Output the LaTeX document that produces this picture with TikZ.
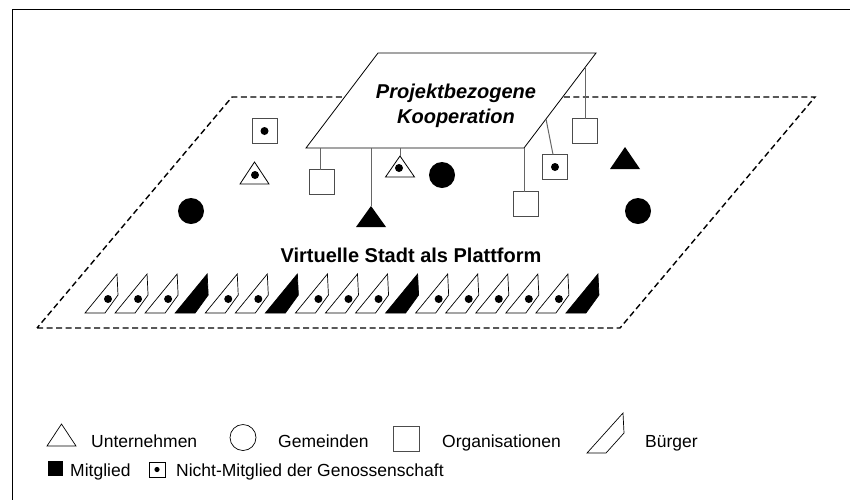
\documentclass[tikz,border=0pt]{standalone}
\usepackage{fontspec}
\setmainfont{Liberation Sans}
\usetikzlibrary{calc}
\tikzset{
  frameline/.style={line width=1pt, line cap=rect},
  platform/.style={dash pattern=on 6pt off 3.5pt, line width=1.4pt, line join=miter},
  coop/.style={draw, fill=white, line width=0.8pt},
  link/.style={draw=black!60, line width=1pt},
  orgbox/.style={draw=black!70, fill=white, line width=0.9pt, minimum width=25pt, minimum height=25pt, inner sep=0pt, outer sep=0pt},
  bigdot/.style={circle, fill=black, minimum size=26pt, inner sep=0pt},
  tri/.style={draw, line width=0.8pt, fill=white, line join=miter},
  tribk/.style={fill=black},
  legtext/.style={font=\fontsize{17.5}{20}\selectfont, anchor=base west, inner sep=0pt},
  bwhite/.pic={\draw[line width=0.7pt, fill=white] (0,0) -- (20,0) -- (33,-18) -- (32,-39) -- cycle; \fill (23,-14) circle (4);},
  bblack/.pic={\draw[line width=0.7pt, fill=black] (0,0) -- (20,0) -- (33,-18) -- (32,-39) -- cycle;}
}
\begin{document}
\begin{tikzpicture}[x=1pt,y=-1pt]
\useasboundingbox (0,0) rectangle (850,499);
% frame
\draw[frameline] (12,499) -- (12,9) -- (850,9);
% platform
\draw[platform] (37,328) -- (620,328) -- (815,97) -- (232,97) -- cycle;
% cooperation plane
\coordinate (cBL) at (306,148);
\coordinate (cBR) at (524,148);
\coordinate (cTR) at (596,53);
\coordinate (cTL) at (378,53);
\draw[coop] (cBL) -- (cBR) -- (cTR) -- (cTL) -- cycle;
\node[font=\bfseries\itshape\fontsize{20}{25}\selectfont, anchor=base, inner sep=0pt] (k1) at (456,98) {Projektbezogene};
\node[font=\bfseries\itshape\fontsize{20}{25}\selectfont, anchor=base, inner sep=0pt] (k2) at (456,123) {Kooperation};
% connector anchors on the plane
\coordinate (a1) at (320,148);
\coordinate (a2) at (371,148);
\coordinate (a3) at (400,148);
\coordinate (a4) at (524,148);
\coordinate (a5) at (546,119);
\coordinate (a6) at (585,67);
% free elements
\node[orgbox] (s1) at (264.5,131) {};
\fill (s1.center) circle (4);
\coordinate (tA) at (254.5,162);
\draw[tri] (tA) -- ++(-14.5,22) -- ++(29,0) -- cycle;
\fill (255,175) circle (4);
\node[bigdot] (g1) at (191,211) {};
\node[bigdot] (g2) at (442,175) {};
\node[bigdot] (g3) at (638,211) {};
\coordinate (tB) at (625,147);
\fill[tribk] (tB) -- ++(-15,22) -- ++(30,0) -- cycle;
% connected elements
\node[orgbox] (s2) at (322,182) {};
\draw[link] (a1) -- (a1 |- s2.north);
\coordinate (tC) at (371,206);
\fill[tribk] (tC) -- ++(-15,21) -- ++(30,0) -- cycle;
\draw[link] (a2) -- (tC);
\coordinate (tD) at (400,156);
\draw[tri] (tD) -- ++(-14.5,21) -- ++(29,0) -- cycle;
\fill (399,168) circle (4);
\draw[link] (a3) -- (tD);
\node[orgbox] (s3) at (525.5,204) {};
\draw[link] (a4) -- (a4 |- s3.north);
\node[orgbox] (s4) at (555,167) {};
\fill (s4.center) circle (4);
\draw[link] (a5) -- ($(s4.north)+(-2,0)$);
\node[orgbox] (s5) at (584.5,131) {};
\draw[link] (a6) -- (a6 |- s5.north);
% platform label
\node[font=\bfseries\fontsize{20}{24}\selectfont, anchor=base, inner sep=0pt] (vs) at (411,262) {Virtuelle Stadt als Plattform};
% citizens
\foreach \i in {0,1,2,4,5,7,8,9,11,12,13,14,15} {
  \pic at ({85+30.06*\i},313) {bwhite};
}
\foreach \i in {3,6,10,16} {
  \pic at ({85+30.06*\i},313) {bblack};
}
% legend row 1
\draw[line width=0.7pt, line join=miter] (47,446) -- (76,446) -- (61.5,424) -- cycle;
\node[legtext] (l1) at (91,447) {Unternehmen};
\node[circle, draw, line width=0.7pt, minimum size=26pt, inner sep=0pt] (lc) at (243,437.5) {};
\node[legtext] (l2) at (278,447) {Gemeinden};
\node[draw=black!70, line width=0.8pt, minimum width=26pt, minimum height=25pt, inner sep=0pt] (ls) at (406,438.5) {};
\node[legtext] (l3) at (442,447) {Organisationen};
\draw[line width=0.7pt, line join=miter] (587,453) -- (606,453) -- (624,433) -- (623,413) -- cycle;
\node[legtext] (l4) at (645,447) {Bürger};
% legend row 2
\node[fill=black, minimum size=15pt, inner sep=0pt] (lm) at (55.5,468.5) {};
\node[legtext] (l5) at (70,476) {Mitglied};
\node[draw, line width=0.8pt, minimum width=16pt, minimum height=15pt, inner sep=0pt] (ln) at (157,469.5) {};
\fill (ln.center) circle (2.6);
\node[legtext] (l6) at (176,476) {Nicht-Mitglied der Genossenschaft};
\end{tikzpicture}
\end{document}
